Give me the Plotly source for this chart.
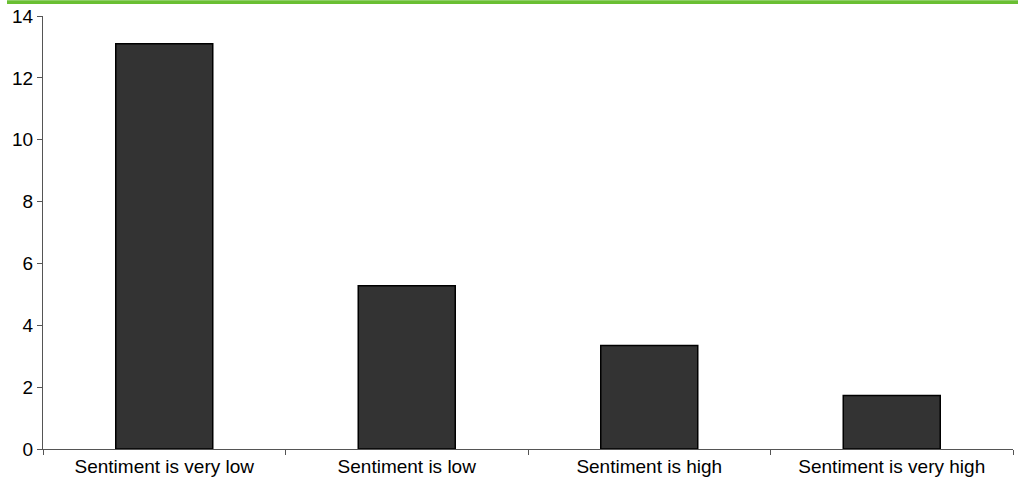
import plotly.graph_objects as go

categories = ["Sentiment is very low", "Sentiment is low", "Sentiment is high", "Sentiment is very high"]
values = [13.1, 5.28, 3.35, 1.73]
y_ticks = [0, 2, 4, 6, 8, 10, 12, 14]

W, H = 1018, 482
L, R, T, B = 43, 5, 16, 29
plot_w = W - L - R
plot_h = H - T - B

fig = go.Figure(
    go.Bar(
        x=categories,
        y=values,
        marker=dict(color="#333333", line=dict(color="#000000", width=1.5)),
    )
)

# green header strip across the top of the page
fig.add_shape(
    type="rect",
    xref="paper", yref="paper",
    x0=(7 - L) / plot_w, x1=(W - L) / plot_w,
    y0=1 + (T - 4) / plot_h, y1=1 + T / plot_h,
    fillcolor="#6abf33", line=dict(width=0), layer="above",
)

fig.update_layout(
    width=W, height=H,
    margin=dict(l=L, r=R, t=T, b=B),
    paper_bgcolor="white", plot_bgcolor="white",
    bargap=0.6,
    showlegend=False,
    font=dict(family="Liberation Sans, Arial, sans-serif", size=19, color="#000000"),
)
fig.update_xaxes(
    showline=True, linecolor="#555555", linewidth=1,
    ticks="outside", ticklen=5, tickcolor="#555555", tickson="boundaries",
    showgrid=False, zeroline=False,
    tickfont=dict(size=19, color="#000000"),
)
fig.update_yaxes(
    range=[0, 14], tickvals=y_ticks,
    showline=True, linecolor="#555555", linewidth=1,
    ticks="outside", ticklen=5, tickcolor="#555555",
    showgrid=False, zeroline=False,
    tickfont=dict(size=19, color="#000000"),
)

fig.write_html("out.html")
